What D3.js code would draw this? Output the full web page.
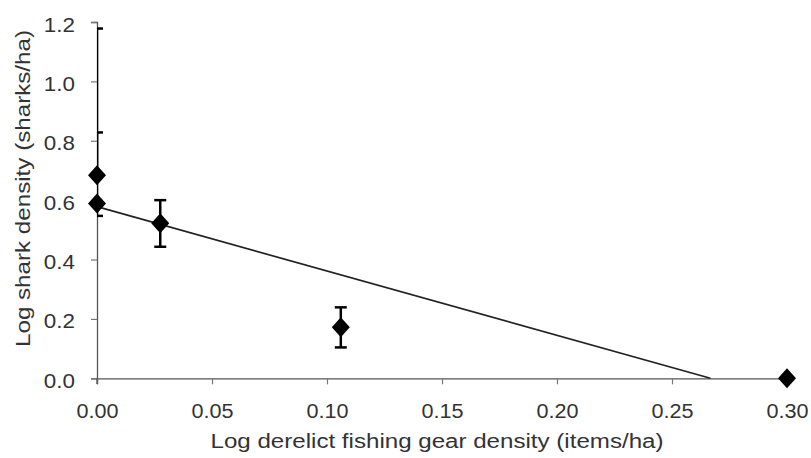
<!DOCTYPE html>
<html>
<head>
<meta charset="utf-8">
<script src="https://cdn.jsdelivr.net/npm/d3@7"></script>
<style>
  body { margin: 0; background: #fff; }
  text { font-family: Arial, "Liberation Sans", sans-serif; fill: #333; }
</style>
</head>
<body>
<svg id="chart" width="811" height="458"></svg>
<script>
// gear density (x), shark density (y), error bar ends
const gear = [0.0, 0.0, 0.0275, 0.106, 0.300];
const shark = [0.684, 0.589, 0.522, 0.172, 0.0];
const errHi = [1.178, 0.828, 0.600, 0.239, null];
const errLo = [null, 0.547, 0.443, 0.104, null];
const trend = [[0.0, 0.578], [0.2667, 0.0]];
const xTicks = [0, 0.05, 0.10, 0.15, 0.20, 0.25, 0.30];
const yTicks = [0, 0.2, 0.4, 0.6, 0.8, 1.0, 1.2];

const svg = d3.select("#chart");
const x = d3.scaleLinear().domain([0, 0.30]).range([97, 787]);
const y = d3.scaleLinear().domain([0, 1.2]).range([378.3, 22]);

// stretch text a bit wider, like the original picture
function widen(sel, k) {
  sel.each(function() {
    const w = this.getComputedTextLength();
    d3.select(this).attr("textLength", w * k).attr("lengthAdjust", "spacingAndGlyphs");
  });
}

// axes
const xAxis = svg.append("g").attr("transform", "translate(0,378.3)")
  .call(d3.axisBottom(x).tickValues(xTicks).tickFormat(d3.format(".2f")).tickSizeOuter(0).tickSize(6));
const yAxis = svg.append("g").attr("transform", "translate(97,0)")
  .call(d3.axisLeft(y).tickValues(yTicks).tickFormat(d3.format(".1f")).tickSizeOuter(0).tickSize(6));

[xAxis, yAxis].forEach(a => {
  a.select(".domain").attr("stroke", "#555").attr("stroke-width", 1.3);
  a.selectAll(".tick line").attr("stroke", "#777").attr("stroke-width", 1.2);
  a.selectAll(".tick text").attr("font-size", "20px").attr("fill", "#333")
    .attr("font-family", "Arial, 'Liberation Sans', sans-serif");
});
xAxis.selectAll(".tick text").attr("y", 39.4).attr("dy", 0);
yAxis.selectAll(".tick text").attr("x", -22).attr("dy", "0.45em");
widen(xAxis.selectAll(".tick text"), 1.08);
widen(yAxis.selectAll(".tick text"), 1.12);
// small extension of y axis below the x axis
svg.append("line").attr("x1", 97).attr("x2", 97).attr("y1", 378.3).attr("y2", 384)
  .attr("stroke", "#555").attr("stroke-width", 1.3);

// trend line
svg.append("line")
  .attr("x1", x(trend[0][0])).attr("y1", y(trend[0][1]))
  .attr("x2", x(trend[1][0])).attr("y2", y(trend[1][1]))
  .attr("stroke", "#222").attr("stroke-width", 1.7);

// error bars, clipped to the plot area
svg.append("clipPath").attr("id", "plot").append("rect")
  .attr("x", 97).attr("y", 0).attr("width", 714).attr("height", 458);
const eb = svg.append("g").attr("clip-path", "url(#plot)");
gear.forEach((g, i) => {
  const hi = errHi[i] == null ? shark[i] : errHi[i];
  const lo = errLo[i] == null ? shark[i] : errLo[i];
  if (hi === lo) return;
  eb.append("line").attr("x1", x(g)).attr("x2", x(g)).attr("y1", y(hi)).attr("y2", y(lo))
    .attr("stroke", "#000").attr("stroke-width", 2.5);
  [errHi[i], errLo[i]].forEach(v => {
    if (v == null) return;
    eb.append("line").attr("x1", x(g) - 6).attr("x2", x(g) + 6).attr("y1", y(v)).attr("y2", y(v))
      .attr("stroke", "#000").attr("stroke-width", 2.5);
  });
});

// diamonds
svg.append("g").selectAll("path").data(gear).join("path")
  .attr("d", (d, i) => {
    const cx = x(d), cy = y(shark[i]);
    return `M${cx},${cy - 10}L${cx + 9},${cy}L${cx},${cy + 10}L${cx - 9},${cy}Z`;
  })
  .attr("fill", "#000");

// axis titles
svg.append("text").attr("x", 437).attr("y", 448).attr("text-anchor", "middle")
  .attr("font-size", "20px").attr("textLength", 453).attr("lengthAdjust", "spacingAndGlyphs")
  .text("Log derelict fishing gear density (items/ha)");
svg.append("text").attr("transform", "translate(30,188.5) rotate(-90)").attr("text-anchor", "middle")
  .attr("font-size", "20px").attr("textLength", 317).attr("lengthAdjust", "spacingAndGlyphs")
  .text("Log shark density (sharks/ha)");
</script>
</body>
</html>
